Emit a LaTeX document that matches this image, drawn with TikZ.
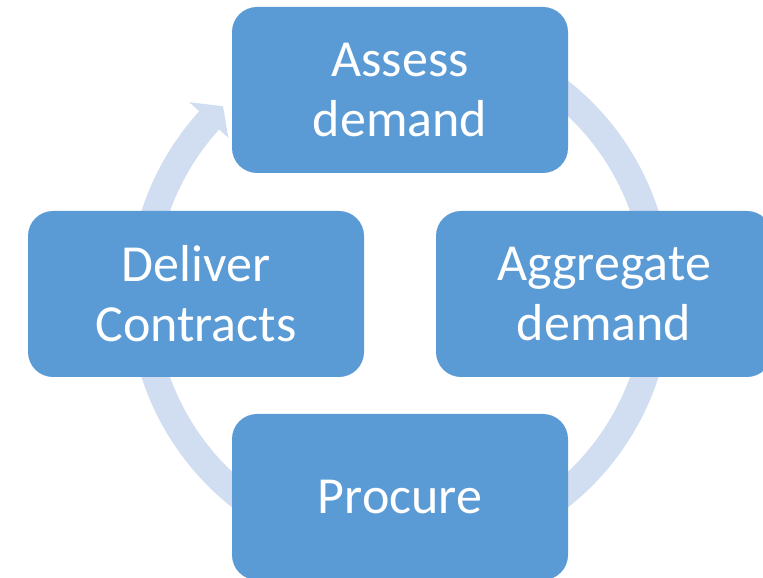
\documentclass[tikz,border=0pt]{standalone}
\usepackage{fontspec}
\setmainfont{Carlito}
\begin{document}
\begin{tikzpicture}[x=1pt,y=1pt]
\definecolor{boxblue}{HTML}{5B9BD5}
\definecolor{ringblue}{HTML}{D1DDF0}
\tikzset{stage/.style={fill=boxblue, rounded corners=25pt, minimum width=336pt, minimum height=166pt, inner sep=0pt, text=white, align=center, font=\fontsize{52}{60}\selectfont}}
\useasboundingbox (0,0) rectangle (763,578);
\coordinate (c) at (400,284);
\draw[ringblue, line width=27pt] ([shift={(60:258)}]c) arc[start angle=60, end angle=-222.5, radius=258];
\fill[ringblue] ([shift={(137.7:232)}]c) -- ([shift={(137.7:285)}]c) -- ([shift={(133.3:258)}]c) -- cycle;
\node[stage] (assess) at (400,488) {Assess\\demand};
\node[stage] (aggregate) at (604,284) {Aggregate\\demand};
\node[stage] (procure) at (400,81) {Procure};
\node[stage] (deliver) at (196,284) {Deliver\\Contracts};
\end{tikzpicture}
\end{document}
